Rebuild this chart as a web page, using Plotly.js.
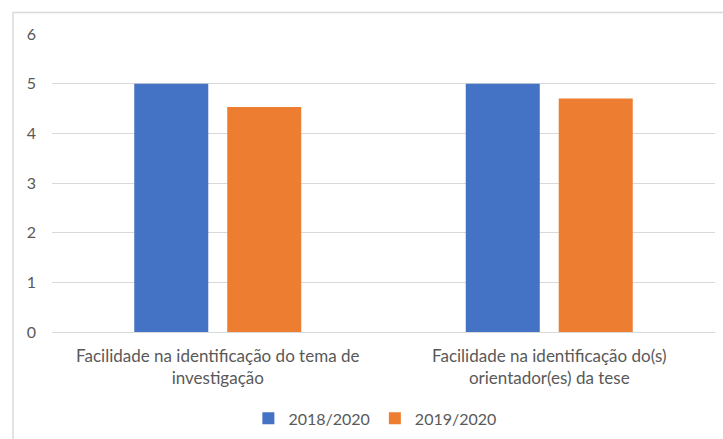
<!DOCTYPE html>
<html>
<head>
<meta charset="utf-8">
<script src="https://cdn.plot.ly/plotly-3.0.1.min.js"></script>
<style>html,body{margin:0;padding:0;background:#fff;}#chart{width:723px;height:439px;}</style>
</head>
<body>
<div id="chart"></div>
<script>
const categories = ["Facilidade na identificação do tema de<br>investigação", "Facilidade na identificação do(s)<br>orientador(es) da tese"];
const seriesNames = ["2018/2020", "2019/2020"];
const values2018 = [5, 5];
const values2019 = [4.53, 4.70];
const yTicks = [0, 1, 2, 3, 4, 5, 6];

const fontFam = "Lato, 'Open Sans', sans-serif";
const traces = [
  {type: 'bar', name: seriesNames[0], x: categories, y: values2018, marker: {color: '#4472C4'}},
  {type: 'bar', name: seriesNames[1], x: categories, y: values2019, marker: {color: '#ED7D31'}}
];
const layout = {
  width: 723, height: 439,
  margin: {l: 52, r: 8, t: 33.5, b: 107.3, autoexpand: false},
  paper_bgcolor: '#fff', plot_bgcolor: '#fff',
  font: {family: fontFam, size: 16, color: '#595959'},
  barmode: 'group', bargap: 0.439, bargroupgap: 0.204,
  showlegend: true,
  legend: {orientation: 'h', x: 0.487, xanchor: 'center', y: -0.29, yanchor: 'middle', font: {size: 16, color: '#595959'}, itemwidth: 30},
  xaxis: {type: 'category', automargin: false, showgrid: false, showline: false, zeroline: false, ticks: '', tickangle: 0, ticklabelstandoff: 12, tickfont: {size: 17}},
  yaxis: {range: [0, 6], automargin: false, tickvals: yTicks, showgrid: true, gridcolor: '#d9d9d9', gridwidth: 1, zeroline: true, zerolinecolor: '#d9d9d9', zerolinewidth: 1, showline: false, ticks: '', ticklabelstandoff: 15},
  shapes: [{type: 'rect', xref: 'paper', yref: 'paper', x0: -0.0588, x1: 1.2, y0: -0.6, y1: 1.072, line: {color: '#d9d9d9', width: 1.5}, layer: 'below'}]
};
Plotly.newPlot('chart', traces, layout, {displayModeBar: false, staticPlot: true});
</script>
</body>
</html>
